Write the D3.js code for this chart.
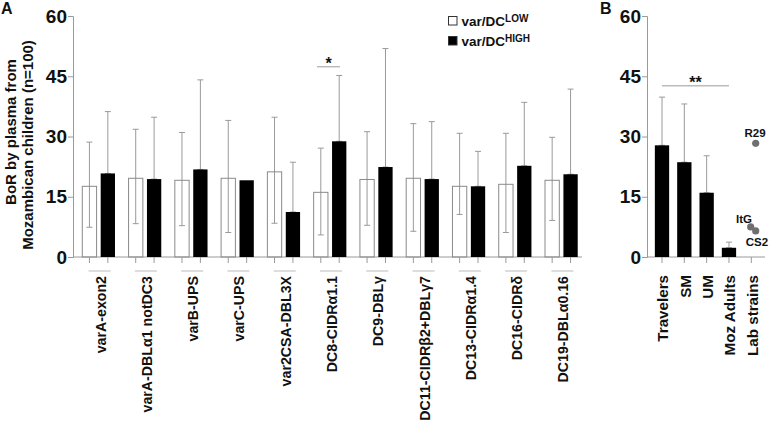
<!DOCTYPE html>
<html>
<head>
<meta charset="utf-8">
<script src="https://cdn.jsdelivr.net/npm/d3@7"></script>
<style>
  body { margin: 0; background: #fff; }
  svg text { font-family: "Liberation Sans", Arial, sans-serif; font-weight: bold; fill: #111; }
</style>
</head>
<body>
<div id="chart"></div>
<script>
// panel A: var/DC groups
var groupsA = ["varA-exon2", "varA-DBLα1 notDC3", "varB-UPS", "varC-UPS", "var2CSA-DBL3X",
  "DC8-CIDRα1.1", "DC9-DBLγ", "DC11-CIDRβ2+DBLγ7", "DC13-CIDRα1.4", "DC16-CIDRδ", "DC19-DBLα0.16"];
var lowMean  = [17.6, 19.6, 19.1, 19.6, 21.2, 16.1, 19.3, 19.6, 17.6, 18.1, 19.1];
var lowHi    = [28.6, 31.8, 31.0, 34.0, 34.8, 27.1, 31.2, 33.2, 30.8, 30.8, 29.8];
var lowLo    = [7.4, 8.3, 7.8, 6.1, 8.4, 5.5, 7.9, 6.4, 10.6, 6.1, 9.1];
var highMean = [20.8, 19.4, 21.8, 19.1, 11.2, 28.8, 22.4, 19.4, 17.6, 22.7, 20.6];
var highHi   = [36.2, 34.8, 44.1, null, 23.6, 45.2, 51.9, 33.7, 26.3, 38.5, 41.8];

// panel B
var groupsB = ["Travelers", "SM", "UM", "Moz Adults", "Lab strains"];
var meanB = [27.8, 23.6, 16.0, 2.3];
var hiB   = [39.8, 38.1, 25.2, 3.7];
var labStrains = ["R29", "ItG", "CS2"];
var labValues  = [28.3, 7.5, 6.5];

var yTicks = [0, 15, 30, 45, 60];

var width = 771, height = 423;
var grey = "#9a9a9a";

var svg = d3.select("#chart").append("svg")
  .attr("width", width).attr("height", height)
  .attr("font-weight", "bold");

var yA = d3.scaleLinear().domain([0, 60]).range([257, 16]);
var xA = d3.scaleBand().domain(groupsA).range([75.5, 584.5]);
var xB = d3.scalePoint().domain(groupsB).range([662, 751.3]);

function yAxis(x0) {
  var g = svg.append("g").attr("transform", "translate(" + x0 + ",0)")
    .call(d3.axisLeft(yA).tickValues(yTicks).tickSize(5).tickPadding(1));
  g.selectAll("path, line").attr("stroke", grey);
  g.selectAll("text").style("font-size", "19px").attr("fill", "#111");
  return g;
}
yAxis(73);
yAxis(647);

// x axis lines
svg.append("line").attr("x1", 73).attr("x2", xA.range()[1] - 2.5)
  .attr("y1", yA(0)).attr("y2", yA(0)).attr("stroke", grey);
svg.append("line").attr("x1", 647).attr("x2", 765)
  .attr("y1", yA(0)).attr("y2", yA(0)).attr("stroke", grey);

var barW = 14.3, off = 9.2;

// error bars (drawn first, white bars are open)
function errBar(cx, lo, hi) {
  svg.append("line").attr("x1", cx).attr("x2", cx).attr("y1", yA(lo)).attr("y2", yA(hi))
    .attr("stroke", grey);
  [hi, lo].forEach(function (v, k) {
    if (k == 1 && lo === hi) return;
    svg.append("line").attr("x1", cx - 3).attr("x2", cx + 3).attr("y1", yA(v)).attr("y2", yA(v))
      .attr("stroke", grey);
  });
}

groupsA.forEach(function (g, i) {
  var c = xA(g) + xA.bandwidth() / 2;
  errBar(c - off, lowLo[i], lowHi[i]);
  if (highHi[i] != null) errBar(c + off, highMean[i], highHi[i]);
});
meanB.forEach(function (v, i) {
  errBar(xB(groupsB[i]), v, hiB[i]);
});

// bars A
svg.selectAll(".lowbar").data(groupsA).enter().append("rect")
  .attr("x", function (d) { return xA(d) + xA.bandwidth() / 2 - off - barW / 2; })
  .attr("y", function (d, i) { return yA(lowMean[i]); })
  .attr("width", barW)
  .attr("height", function (d, i) { return yA(0) - yA(lowMean[i]); })
  .attr("fill", "none").attr("stroke", "#8a8a8a");

svg.selectAll(".highbar").data(groupsA).enter().append("rect")
  .attr("x", function (d) { return xA(d) + xA.bandwidth() / 2 + off - barW / 2; })
  .attr("y", function (d, i) { return yA(highMean[i]); })
  .attr("width", barW)
  .attr("height", function (d, i) { return yA(0) - yA(highMean[i]); })
  .attr("fill", "#000");

// bars B
svg.selectAll(".bbar").data(meanB).enter().append("rect")
  .attr("x", function (d, i) { return xB(groupsB[i]) - barW / 2; })
  .attr("y", function (d) { return yA(d); })
  .attr("width", barW)
  .attr("height", function (d) { return yA(0) - yA(d); })
  .attr("fill", "#000");

// x ticks, underlines and labels A
groupsA.forEach(function (g) {
  var c = xA(g) + xA.bandwidth() / 2;
  [c - off, c + off].forEach(function (t) {
    svg.append("line").attr("x1", t).attr("x2", t).attr("y1", yA(0)).attr("y2", yA(0) + 6)
      .attr("stroke", grey);
  });
  svg.append("line").attr("x1", c - 10).attr("x2", c + 12).attr("y1", 271).attr("y2", 271)
    .attr("stroke", "#bbb");
  svg.append("text")
    .attr("transform", "translate(" + (c + 2) + ",276) rotate(-90)")
    .attr("dy", "0.35em").attr("text-anchor", "end")
    .style("font-size", "14.2px").text(g);
});

// x ticks and labels B
groupsB.forEach(function (g) {
  var c = xB(g);
  svg.append("line").attr("x1", c).attr("x2", c).attr("y1", yA(0)).attr("y2", yA(0) + 6)
    .attr("stroke", grey);
  svg.append("text")
    .attr("transform", "translate(" + (c + 1) + ",275) rotate(-90)")
    .attr("dy", "0.35em").attr("text-anchor", "end")
    .style("font-size", "15.2px").text(g);
});

// lab strain points
var labX = [755.7, 750.7, 755.7];
svg.selectAll(".lab").data(labValues).enter().append("circle")
  .attr("cx", function (d, i) { return labX[i]; })
  .attr("cy", function (d) { return yA(d); })
  .attr("r", 3.6).attr("fill", "#6f6f6f");
svg.append("text").attr("x", 755).attr("y", yA(labValues[0]) - 6).attr("text-anchor", "middle")
  .style("font-size", "11.5px").text(labStrains[0]);
svg.append("text").attr("x", 752).attr("y", yA(labValues[1]) - 4).attr("text-anchor", "end")
  .style("font-size", "11.5px").text(labStrains[1]);
svg.append("text").attr("x", 757).attr("y", yA(labValues[2]) + 15).attr("text-anchor", "middle")
  .style("font-size", "11.5px").text(labStrains[2]);

// significance
function sig(x1, x2, y, s) {
  svg.append("line").attr("x1", x1).attr("x2", x2).attr("y1", y).attr("y2", y)
    .attr("stroke", "#bbb").attr("stroke-width", 1.5);
  svg.append("text").attr("x", (x1 + x2) / 2).attr("y", y + 2).attr("text-anchor", "middle")
    .style("font-size", "16px").text(s);
}
var c8 = xA(groupsA[5]) + xA.bandwidth() / 2;
sig(c8 - 13, c8 + 10, 66.7, "*");
sig(xB(groupsB[0]), xB(groupsB[3]), 85.7, "**");

// y title
svg.append("text").attr("transform", "translate(16,132) rotate(-90)").attr("text-anchor", "middle")
  .style("font-size", "15px").text("BoR by plasma from");
svg.append("text").attr("transform", "translate(33,145) rotate(-90)").attr("text-anchor", "middle")
  .style("font-size", "15px").text("Mozambican children (n=100)");

// panel letters
svg.append("text").attr("x", 1).attr("y", 14).style("font-size", "16px").text("A");
svg.append("text").attr("x", 600).attr("y", 14).style("font-size", "16px").text("B");

// legend
var legend = [["LOW", "#fff"], ["HIGH", "#000"]];
legend.forEach(function (l, i) {
  var y = 16 + i * 20;
  svg.append("rect").attr("x", 448.5).attr("y", y + 0.5).attr("width", 8.5).attr("height", 8.5)
    .attr("fill", l[1]).attr("stroke", "#333");
  var t = svg.append("text").attr("x", 461.5).attr("y", y + 10).style("font-size", "13.5px");
  t.append("tspan").text("var/DC");
  t.append("tspan").attr("dy", -4.5).style("font-size", "10px").text(l[0]);
});
</script>
</body>
</html>
